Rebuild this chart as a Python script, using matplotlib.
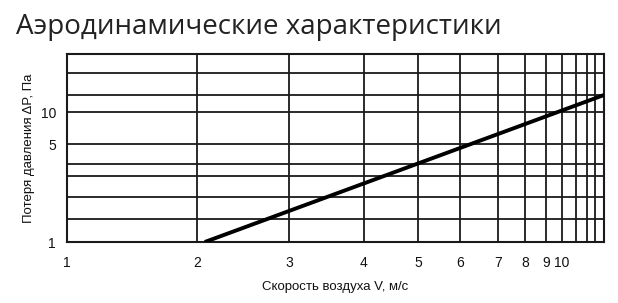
import numpy as np
import matplotlib
matplotlib.use("Agg")
import matplotlib.pyplot as plt

# Data
velocity = [2.07, 14.0]          # V, m/s
pressure = [1.0, 15.0]           # dP, Pa
x_grid = [1, 2, 3, 4, 5, 6, 7, 8, 9, 10, 11, 12, 13, 14]
x_labels = ["1", "2", "3", "4", "5", "6", "7", "8", "9", "10"]
y_grid = [1, 1.5, 2, 3, 4, 5, 10, 15, 20, 30]
y_labels = ["1", "5", "10"]
y_label_vals = [1, 5, 10]

# Nonuniform (hand-drawn) logarithmic scale of the reference nomogram
x_pos = [0, 130, 222, 297, 351, 393, 431, 458, 479, 495, 509, 520, 528, 537]
y_pos = [0, 23, 45, 66, 78, 98, 130, 147, 169, 188]

def make_scale(vals, pos):
    lv = np.log10(np.asarray(vals, float))
    p = np.asarray(pos, float)
    def fwd(v):
        v = np.clip(np.asarray(v, float), 1e-6, None)
        l = np.log10(v)
        out = np.interp(l, lv, p)
        lo = l < lv[0]
        hi = l > lv[-1]
        out = np.where(lo, p[0] + (l - lv[0]) * (p[1] - p[0]) / (lv[1] - lv[0]), out)
        out = np.where(hi, p[-1] + (l - lv[-1]) * (p[-1] - p[-2]) / (lv[-1] - lv[-2]), out)
        return out
    def inv(q):
        q = np.asarray(q, float)
        out = np.interp(q, p, lv)
        lo = q < p[0]
        hi = q > p[-1]
        out = np.where(lo, lv[0] + (q - p[0]) * (lv[1] - lv[0]) / (p[1] - p[0]), out)
        out = np.where(hi, lv[-1] + (q - p[-1]) * (lv[-1] - lv[-2]) / (p[-1] - p[-2]), out)
        return 10 ** out
    return fwd, inv

plt.rcParams['font.family'] = ['Liberation Sans', 'DejaVu Sans']

fig = plt.figure(figsize=(6.18, 3.03), dpi=100)
ax = fig.add_axes([67 / 618, 61 / 303, 537 / 618, 188 / 303])

ax.set_xscale('function', functions=make_scale(x_grid, x_pos))
ax.set_yscale('function', functions=make_scale(y_grid, y_pos))
ax.set_xlim(x_grid[0], x_grid[-1])
ax.set_ylim(y_grid[0], y_grid[-1])

gc = '#1a1a1a'
for xv in x_grid[1:-1]:
    ax.axvline(xv, color=gc, lw=1.3, zorder=1)
for yv in y_grid[1:-1]:
    ax.axhline(yv, color=gc, lw=1.3, zorder=1)

ax.plot(velocity, pressure, color='black', lw=2.8, solid_capstyle='butt', zorder=3, clip_on=True)

ax.set_xticks(x_grid[:len(x_labels)])
ax.set_xticklabels(x_labels)
ax.set_yticks(y_label_vals)
ax.set_yticklabels(y_labels)
ax.xaxis.set_minor_locator(matplotlib.ticker.NullLocator())
ax.yaxis.set_minor_locator(matplotlib.ticker.NullLocator())
ax.tick_params(axis='both', length=0, labelsize=10, colors='#111111')
ax.tick_params(axis='x', pad=10)
ax.tick_params(axis='y', pad=8)

for s in ax.spines.values():
    s.set_color(gc)
    s.set_linewidth(1.5)

ax.set_xlabel('Скорость воздуха V, м/с', fontsize=9.5, color='#111111', labelpad=8)
ax.set_ylabel('Потеря давления ΔP, Па', fontsize=9.5, color='#111111', labelpad=4)

fig.text(16 / 618, 1 - 34 / 303, 'Аэродинамические характеристики',
         fontsize=20, family=['Open Sans', 'DejaVu Sans'], color='#222222', va='baseline', ha='left')

fig.savefig('out.png', dpi=100)
